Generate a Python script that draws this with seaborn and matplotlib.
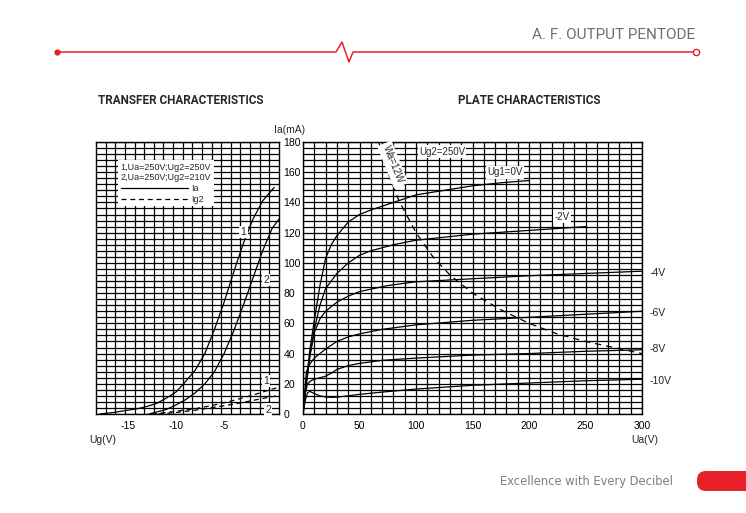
import numpy as np
import pandas as pd
import matplotlib
matplotlib.use("Agg")
import matplotlib.pyplot as plt
import seaborn as sns
from matplotlib.lines import Line2D
from matplotlib.patches import FancyBboxPatch
from matplotlib.transforms import IdentityTransform, blended_transform_factory
from matplotlib.ticker import MultipleLocator, FixedLocator

# ---- transfer characteristics (Ia, Ig2 in mA vs Ug in V)
ug_ia1 = [-17.9, -16.5, -15, -14, -13, -12, -11, -10, -9.2, -8, -7, -6, -5, -4, -3, -2, -1, 0.2]
ia1 = [0, 1, 2.5, 3.5, 5, 7, 10.5, 14.5, 20, 29, 40, 56, 74, 94, 113, 129, 141, 150]
ug_ia2 = [-12.8, -11, -10, -9, -8, -7, -6, -5, -4, -3, -2, -1, 0, 0.7]
ia2 = [0, 3, 6, 9.5, 14, 20, 28, 40, 55, 72, 90, 108, 123, 129]
ug_ig2_1 = [-12.5, -11, -10, -8, -6, -4, -2, 0, 0.7]
ig2_1 = [0, 1, 1.8, 3.5, 6, 9, 12.5, 16.5, 17.7]
ug_ig2_2 = [-11.8, -10, -8, -6, -4, -2, 0, 0.7]
ig2_2 = [0, 1, 2.5, 4.5, 6.5, 9, 11.5, 12.2]

# ---- plate characteristics (Ia in mA vs Ua in V), one curve per Ug1
ua_g0 = [0, 3, 6, 10, 15, 20, 25, 30, 40, 50, 60, 80, 100, 125, 150, 175, 200]
ia_g0 = [0, 22, 42, 62, 85, 103, 112, 118, 127, 132, 135, 140, 145, 148, 151, 153, 154.5]
ua_g2 = [0, 3, 6, 10, 15, 20, 30, 40, 50, 60, 80, 100, 125, 150, 200, 250]
ia_g2 = [0, 20, 38, 56, 72, 83, 93, 100, 105, 108, 112, 115, 117, 119, 121.5, 124]
ua_g4 = [0, 3, 6, 10, 15, 20, 30, 40, 50, 75, 100, 150, 200, 250, 300]
ia_g4 = [0, 20, 38, 54, 63, 68, 74, 78, 81, 85, 87.5, 89.5, 91.5, 93, 94.5]
ua_g6 = [0, 3, 6, 10, 15, 20, 30, 40, 50, 70, 100, 150, 200, 250, 300]
ia_g6 = [0, 28, 33, 37, 40, 43, 48, 51, 53, 56, 59, 62, 64, 66, 68]
ua_g8 = [0, 2, 4, 7, 10, 15, 20, 25, 30, 40, 50, 70, 100, 150, 200, 250, 300]
ia_g8 = [0, 14, 20, 22, 23, 24, 25, 27, 29.5, 32, 33.5, 35.5, 37, 39, 40, 41.5, 42.5]
ua_g10 = [0, 2, 4, 6, 10, 15, 20, 25, 30, 40, 50, 70, 100, 150, 200, 250, 300]
ia_g10 = [0, 9, 14, 15, 13.5, 12, 11.3, 11, 11.2, 12, 13, 14.5, 16.5, 19, 20.5, 22, 23]
# 12 W dissipation limit
ua_wa = [67, 75, 85, 100, 115, 130, 150, 175, 200, 225, 250, 275, 300]
ia_wa = [180, 160, 141, 120, 104, 92, 80, 69, 60, 53, 48, 44, 40]

ug1_labels = ["-4V", "-6V", "-8V", "-10V"]
ug1_label_ia = [93.6, 67, 43, 22]

W, H = 746, 513
sns.set_theme(style="white")
plt.rcParams["font.family"] = ["Liberation Sans", "DejaVu Sans"]
plt.rcParams["axes.unicode_minus"] = False

fig = plt.figure(figsize=(W / 100, H / 100), dpi=100)
fig.patch.set_facecolor("white")


def px(x, y):
    return x / W, 1 - y / H


def rect(x0, y0, x1, y1):
    return [x0 / W, 1 - y1 / H, (x1 - x0) / W, (y1 - y0) / H]


ax1 = fig.add_axes(rect(96, 142, 279, 414))
ax2 = fig.add_axes(rect(303, 142, 642, 414))

grid_kw = dict(color="black", linewidth=0.9)
for ax in (ax1, ax2):
    for s in ax.spines.values():
        s.set_color("black")
        s.set_linewidth(1.0)
    ax.set_facecolor("white")
    ax.set_ylim(0, 180)
    ax.yaxis.set_minor_locator(MultipleLocator(4))
    ax.yaxis.set_major_locator(MultipleLocator(20))
    ax.tick_params(which="both", length=0, labelsize=7.5, colors="black")
    ax.set_axisbelow(True)

# left: transfer
ax1.set_xlim(-18.3, 0.7)
ax1.xaxis.remove_overlapping_locs = False
ax1.set_xticks([-15, -10, -5])
ax1.set_xticklabels(["-15", "-10", "-5"])
ax1.xaxis.set_minor_locator(FixedLocator(np.arange(-17.3, 0.6, 1.0)))
ax1.grid(True, which="minor", **grid_kw)
ax1.grid(True, which="major", axis="y", **grid_kw)
ax1.set_yticklabels([])
ax1.tick_params(axis="x", pad=5)

sns.lineplot(x=ug_ia1, y=ia1, ax=ax1, color="black", linewidth=0.9)
sns.lineplot(x=ug_ia2, y=ia2, ax=ax1, color="black", linewidth=0.9)
sns.lineplot(x=ug_ig2_1, y=ig2_1, ax=ax1, color="black", linewidth=0.9, linestyle=(0, (4, 3)))
sns.lineplot(x=ug_ig2_2, y=ig2_2, ax=ax1, color="black", linewidth=0.9, linestyle=(0, (4, 3)))

box = dict(facecolor="white", edgecolor="none", pad=1.0)
for txt, x, y in [("1", -3.0, 120.5), ("2", -0.65, 88.7), ("1", -0.65, 21.9), ("2", -0.45, 2.8)]:
    ax1.text(x, y, txt, fontsize=7.5, ha="center", va="center", bbox=box, zorder=5)

handles = [Line2D([], [], color="black", lw=0.9),
           Line2D([], [], color="black", lw=0.9, linestyle=(0, (4, 3)))]
leg = ax1.legend(handles, ["Ia", "Ig2"], title="1,Ua=250V;Ug2=250V\n2,Ua=250V;Ug2=210V",
                 loc="upper left", bbox_to_anchor=(0.12, 0.934), borderaxespad=0,
                 fontsize=6.5, title_fontsize=6.5, handlelength=7.5, handletextpad=0.3,
                 frameon=True, fancybox=False, borderpad=0.3, labelspacing=0.2)
leg.get_frame().set_edgecolor("none")
leg.get_frame().set_facecolor("white")
leg.get_frame().set_alpha(1)
leg._legend_box.align = "left"

# right: plate
ax2.set_xlim(0, 300)
ax2.xaxis.set_major_locator(MultipleLocator(50))
ax2.xaxis.set_minor_locator(MultipleLocator(10))
ax2.grid(True, which="both", **grid_kw)
ax2.tick_params(axis="x", pad=5)
ax2.tick_params(axis="y", pad=14)
for lab in ax2.get_yticklabels():
    lab.set_horizontalalignment("left")

plate = pd.concat([
    pd.DataFrame({"Ua": ua, "Ia": ia, "Ug1": g})
    for ua, ia, g in [(ua_g0, ia_g0, 0), (ua_g2, ia_g2, -2), (ua_g4, ia_g4, -4),
                      (ua_g6, ia_g6, -6), (ua_g8, ia_g8, -8), (ua_g10, ia_g10, -10)]
])
sns.lineplot(data=plate, x="Ua", y="Ia", units="Ug1", estimator=None, ax=ax2,
             color="black", linewidth=0.9)
sns.lineplot(x=ua_wa, y=ia_wa, ax=ax2, color="black", linewidth=0.9, linestyle=(0, (5, 4)))

ax2.text(123, 173.5, "Ug2=250V", fontsize=7, ha="center", va="center", bbox=box, zorder=5)
ax2.text(179, 160, "Ug1=0V", fontsize=7, ha="center", va="center", bbox=box, zorder=5)
ax2.text(229, 130.5, "-2V", fontsize=7, ha="center", va="center", bbox=box, zorder=5)
ax2.text(79.5, 165, "Wa=12W", fontsize=7, ha="center", va="center", rotation=-68,
         bbox=dict(facecolor="white", edgecolor="none", pad=2.0), zorder=5)
tr = blended_transform_factory(ax2.transAxes, ax2.transData)
for txt, y in zip(ug1_labels, ug1_label_ia):
    ax2.text(1.021, y, txt, transform=tr, fontsize=7.5, ha="left", va="center")

for a in (ax1, ax2):
    a.set_xlabel("")
    a.set_ylabel("")

# axis captions
fig.text(*px(290, 130), "Ia(mA)", fontsize=7.5, ha="center", va="center")
fig.text(*px(89, 440), "Ug(V)", fontsize=7.5, ha="left", va="center")
fig.text(*px(645, 440), "Ua(V)", fontsize=7.5, ha="center", va="center")

# titles
title_font = ["Roboto", "DejaVu Sans"]
fig.text(*px(98, 101), "TRANSFER CHARACTERISTICS", fontsize=8.5, fontweight="bold",
         family=title_font, ha="left", va="center")
fig.text(*px(458, 101), "PLATE CHARACTERISTICS", fontsize=8.5, fontweight="bold",
         family=title_font, ha="left", va="center")

# header
red = "#e8202a"
fig.text(*px(695, 35), "A. F. OUTPUT PENTODE", fontsize=11, color="#6d6e71",
         family=title_font, fontweight="normal", ha="right", va="center")
hx = [57, 336, 342, 349, 353, 693]
hy = [52, 52, 42, 62, 52, 52]
fig.add_artist(Line2D([x / W for x in hx], [1 - y / H for y in hy], color=red, lw=1.1))
fig.add_artist(Line2D([57 / W], [1 - 52 / H], marker="o", markersize=3.5, color=red))
fig.add_artist(Line2D([696 / W], [1 - 52 / H], marker="o", markersize=4.5,
                      markerfacecolor="white", markeredgecolor=red, markeredgewidth=1))

# footer
fig.text(*px(500, 481), "Excellence with Every Decibel", fontsize=8.3, color="#7f7f7f",
         family=["DejaVu Sans"], ha="left", va="center")
tab = FancyBboxPatch((697, H - 491), 80, 20, boxstyle="round,pad=0,rounding_size=9",
                     transform=IdentityTransform(), facecolor=red, edgecolor="none")
fig.add_artist(tab)

fig.savefig("out.png", dpi=100)
